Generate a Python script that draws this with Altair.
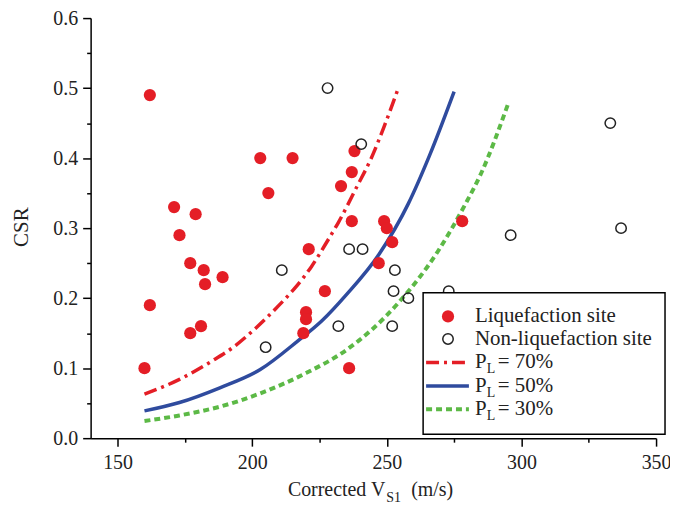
import altair as alt
import pandas as pd

# Liquefaction sites (filled red)
liq_v = [162, 203, 215, 206, 171, 179, 173, 221, 177, 182, 189, 182.5, 162, 227,
         220, 220, 219, 181, 177, 160, 238, 237, 233, 237, 249, 250, 252, 247, 278, 236]
liq_csr = [0.49, 0.40, 0.40, 0.35, 0.33, 0.32, 0.29, 0.27, 0.25, 0.24, 0.23, 0.22, 0.19, 0.21,
           0.18, 0.17, 0.15, 0.16, 0.15, 0.10, 0.41, 0.38, 0.36, 0.31, 0.31, 0.30, 0.28, 0.25, 0.31, 0.10]

# Non-liquefaction sites (open circles)
non_v = [228, 240.5, 236, 241, 253, 252.5, 258, 273, 232, 252, 211, 205, 333, 296, 337]
non_csr = [0.50, 0.42, 0.27, 0.27, 0.24, 0.21, 0.20, 0.21, 0.16, 0.16, 0.24, 0.13, 0.45, 0.29, 0.30]

# Probability curves
p70_v = [160, 173, 185, 193, 201, 210, 216, 222, 228, 232, 239, 244, 249, 254]
p70_csr = [0.063, 0.084, 0.110, 0.130, 0.156, 0.190, 0.215, 0.245, 0.282, 0.308, 0.360, 0.398, 0.445, 0.497]
p50_v = [160, 173, 188, 203, 217, 226, 235, 247, 258, 266, 275]
p50_csr = [0.039, 0.051, 0.072, 0.098, 0.139, 0.168, 0.205, 0.262, 0.335, 0.405, 0.495]
p30_v = [160, 173, 188, 203, 220, 235, 254, 269, 279, 285, 295]
p30_csr = [0.0245, 0.0325, 0.045, 0.064, 0.093, 0.126, 0.192, 0.267, 0.333, 0.378, 0.477]

x_ticks = [150, 175, 200, 225, 250, 275, 300, 325, 350]
y_ticks = [0, 0.05, 0.1, 0.15, 0.2, 0.25, 0.3, 0.35, 0.4, 0.45, 0.5, 0.55, 0.6]

FONT = "Liberation Serif"
RED = "#e41e26"
BLUE = "#2f4b9e"
GREEN = "#5cb946"

x_axis = alt.Axis(values=x_ticks, title=None, grid=False,
                  labelExpr="datum.value % 50 == 0 ? datum.label : ''",
                  tickSize={"condition": {"test": "datum.value % 50 != 0", "value": 4}, "value": 8},
                  domainColor="black", domainWidth=1.5, tickColor="black", tickWidth=1.5,
                  labelFont=FONT, labelFontSize=20, labelColor="#222", labelPadding=6,
                  labelFlush=False, labelOverlap=False)
y_axis = alt.Axis(values=y_ticks, title=None, grid=False,
                  labelExpr="round(datum.value*100) % 10 == 0 ? format(datum.value, '.1f') : ''",
                  tickSize={"condition": {"test": "round(datum.value*100) % 10 != 0", "value": 4}, "value": 8},
                  domainColor="black", domainWidth=1.5, tickColor="black", tickWidth=1.5,
                  labelFont=FONT, labelFontSize=20, labelColor="#222", labelPadding=5,
                  labelFlush=False, labelOverlap=False)

X = alt.X("v:Q", scale=alt.Scale(domain=[140, 350], nice=False, zero=False), axis=x_axis)
Y = alt.Y("csr:Q", scale=alt.Scale(domain=[0, 0.6], nice=False, zero=False), axis=y_axis)

liq = pd.DataFrame({"v": liq_v, "csr": liq_csr})
non = pd.DataFrame({"v": non_v, "csr": non_csr})
c70 = pd.DataFrame({"v": p70_v, "csr": p70_csr})
c50 = pd.DataFrame({"v": p50_v, "csr": p50_csr})
c30 = pd.DataFrame({"v": p30_v, "csr": p30_csr})

liq_layer = alt.Chart(liq).mark_point(shape="circle", filled=True, color=RED, opacity=1, size=150).encode(x=X, y=Y)
non_layer = alt.Chart(non).mark_point(shape="circle", filled=False, color="#222", opacity=1,
                                      size=110, strokeWidth=1.5).encode(x=X, y=Y)
l70 = alt.Chart(c70).mark_line(color=RED, strokeWidth=3.5, strokeDash=[13, 5, 3, 5],
                               interpolate="monotone").encode(x=X, y=Y)
l50 = alt.Chart(c50).mark_line(color=BLUE, strokeWidth=3.5, interpolate="monotone").encode(x=X, y=Y)
l30 = alt.Chart(c30).mark_line(color=GREEN, strokeWidth=4, strokeDash=[6, 4],
                               interpolate="monotone").encode(x=X, y=Y)

one = pd.DataFrame({"a": [0]})

def txt(s, x, y, size=21, align="left", baseline="middle", angle=0):
    kw = dict(text=s, font=FONT, fontSize=size, align=align, baseline=baseline, color="#222")
    if angle:
        kw["angle"] = angle
    return alt.Chart(one).mark_text(**kw).encode(x=alt.value(x), y=alt.value(y))

# Plot origin is at page (91, 17); everything below is relative to it.
# Legend (drawn manually to allow subscripts)
box = alt.Chart(one).mark_rect(fill="white", stroke="black", strokeWidth=1.5).encode(
    x=alt.value(334), x2=alt.value(577), y=alt.value(276), y2=alt.value(418))
rows = [299.7, 322.3, 346, 369.7, 393]
leg = [box,
       alt.Chart(one).mark_point(shape="circle", filled=True, color=RED, opacity=1, size=150).encode(
           x=alt.value(359), y=alt.value(rows[0])),
       alt.Chart(one).mark_point(shape="circle", filled=False, color="#222", opacity=1, size=110,
                                 strokeWidth=1.5).encode(x=alt.value(359), y=alt.value(rows[1])),
       alt.Chart(one).mark_rule(color=RED, strokeWidth=3.5, strokeDash=[13, 5, 3, 5]).encode(
           x=alt.value(337), x2=alt.value(380), y=alt.value(rows[2])),
       alt.Chart(one).mark_rule(color=BLUE, strokeWidth=3.5).encode(
           x=alt.value(337), x2=alt.value(380), y=alt.value(rows[3])),
       alt.Chart(one).mark_rule(color=GREEN, strokeWidth=4, strokeDash=[6, 4]).encode(
           x=alt.value(337), x2=alt.value(380), y=alt.value(rows[4])),
       txt("Liquefaction site", 386, rows[0]),
       txt("Non-liquefaction site", 386, rows[1])]
for r, pct in zip(rows[2:], ["70%", "50%", "30%"]):
    leg += [txt("P", 386, r), txt("L", 398, r + 7, size=14), txt("= " + pct, 409, r)]

titles = [txt("Corrected V", 296, 480, size=20, align="right", baseline="alphabetic"),
          txt("S1", 297, 486, size=14, baseline="alphabetic"),
          txt("(m/s)", 322, 480, size=20, baseline="alphabetic"),
          txt("CSR", -69, 210, size=21, align="center", angle=270)]

chart = alt.layer(l70, l50, l30, liq_layer, non_layer, *leg, *titles).properties(
    width=568, height=422,
    autosize=alt.AutoSizeParams(type="none"),
    padding={"left": 83, "top": 9, "right": 14, "bottom": 66},
    background="white",
).configure_view(strokeWidth=0)

chart.save("out.html", embed_options={"renderer": "svg", "actions": False})
